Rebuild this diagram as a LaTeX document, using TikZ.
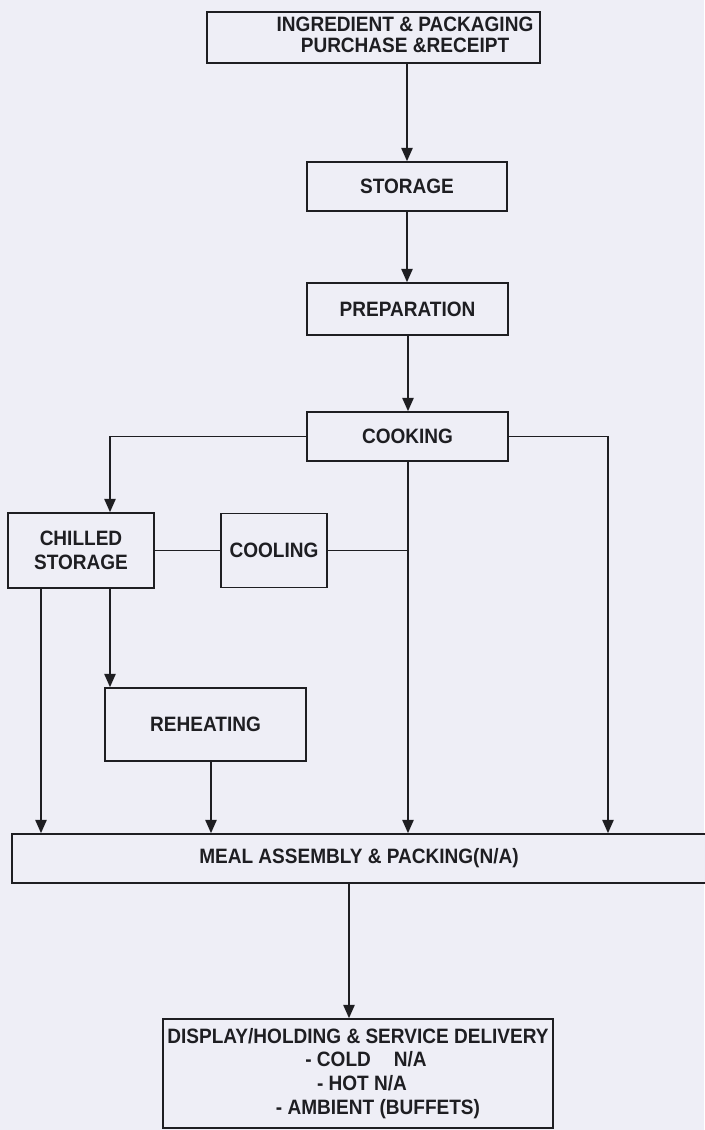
\documentclass[tikz,border=0pt]{standalone}
\usepackage{fontspec}
\setmainfont[FakeStretch=0.915]{Liberation Sans}
\usetikzlibrary{arrows.meta,positioning}
\definecolor{paper}{RGB}{238,238,246}
\definecolor{ink}{RGB}{30,30,34}

\begin{document}
\begin{tikzpicture}[
                font=\fontsize{14.8}{17}\selectfont\bfseries,
                box/.style={rectangle, draw=ink, fill=paper, line width=1.2pt, text=ink, align=center, inner sep=1pt},
                flow/.style={draw=ink, line width=1.2pt, -{Triangle[length=3.3mm, width=2.8mm]}},
                link/.style={draw=ink, line width=1.2pt},
            ]
            % --- 页面与背景 ---
            \fill[paper] (0,0) rectangle (17.6,-28.25);
            \useasboundingbox (0,0) rectangle (17.6,-28.25);
            % --- 流程框 ---
            \node[box, minimum width=8.325cm, minimum height=1.275cm] (purchase) at (9.3375,-0.9375)
                {\hspace*{1.575cm}{\renewcommand{\arraystretch}{0.85}\begin{tabular}{@{}c@{}}INGREDIENT \& PACKAGING\\PURCHASE \&RECEIPT\end{tabular}}};
            \node[box, minimum width=5.0cm, minimum height=1.225cm] (storage) at (10.175,-4.6625) {STORAGE};
            \node[box, minimum width=5.025cm, minimum height=1.3cm] (prep) at (10.1875,-7.725) {PREPARATION};
            \node[box, minimum width=5.025cm, minimum height=1.225cm] (cooking) at (10.1875,-10.9125) {COOKING};
            \node[box, minimum width=3.65cm, minimum height=1.875cm] (chilled) at (2.025,-13.7625) {CHILLED\\STORAGE};
            \node[box, minimum width=2.65cm, minimum height=1.85cm] (cooling) at (6.85,-13.7625) {COOLING};
            \node[box, minimum width=5.025cm, minimum height=1.825cm] (reheat) at (5.1375,-18.1125) {REHEATING};
            \node[box, minimum width=17.35cm, minimum height=1.225cm] (meal) at (8.975,-21.4625) {MEAL ASSEMBLY \& PACKING(N/A)};
            \node[box, minimum width=9.75cm, minimum height=2.725cm] (display) at (8.95,-26.8375)
                {DISPLAY/HOLDING \& SERVICE DELIVERY\\\hspace*{0.4cm}- COLD\hspace{1.1em}N/A\\\hspace*{0.2cm}- HOT N/A\\\hspace*{1.0cm}- AMBIENT (BUFFETS)};
            % --- 竖线所在列 ---
            \coordinate (colA) at (1.025,0);
            \coordinate (colB) at (2.75,0);
            \coordinate (colC) at (5.275,0);
            \coordinate (colD) at (10.2,0);
            \coordinate (colE) at (15.2,0);
            \coordinate (colF) at (8.725,0);
            % --- 主流程 ---
            \draw[flow] (purchase.south -| storage.north) -- (storage.north);
            \draw[flow] (storage.south) -- (prep.north -| storage.south);
            \draw[flow] (prep.south -| colD) -- (cooking.north -| colD);
            % --- 烹饪后的分支 ---
            \draw[flow] (cooking.west) -| (chilled.north -| colB);
            \draw[flow] (cooking.east) -| (meal.north -| colE);
            \draw[flow] (cooking.south -| colD) -- (meal.north -| colD);
            \draw[link] (chilled.east) -- (cooling.west);
            \draw[link] (cooling.east) -- (cooling.east -| colD);
            \draw[flow] (chilled.south -| colA) -- (meal.north -| colA);
            \draw[flow] (chilled.south -| colB) -- (reheat.north -| colB);
            \draw[flow] (reheat.south -| colC) -- (meal.north -| colC);
            \draw[flow] (meal.south -| colF) -- (display.north -| colF);
        \end{tikzpicture}
\end{document}
